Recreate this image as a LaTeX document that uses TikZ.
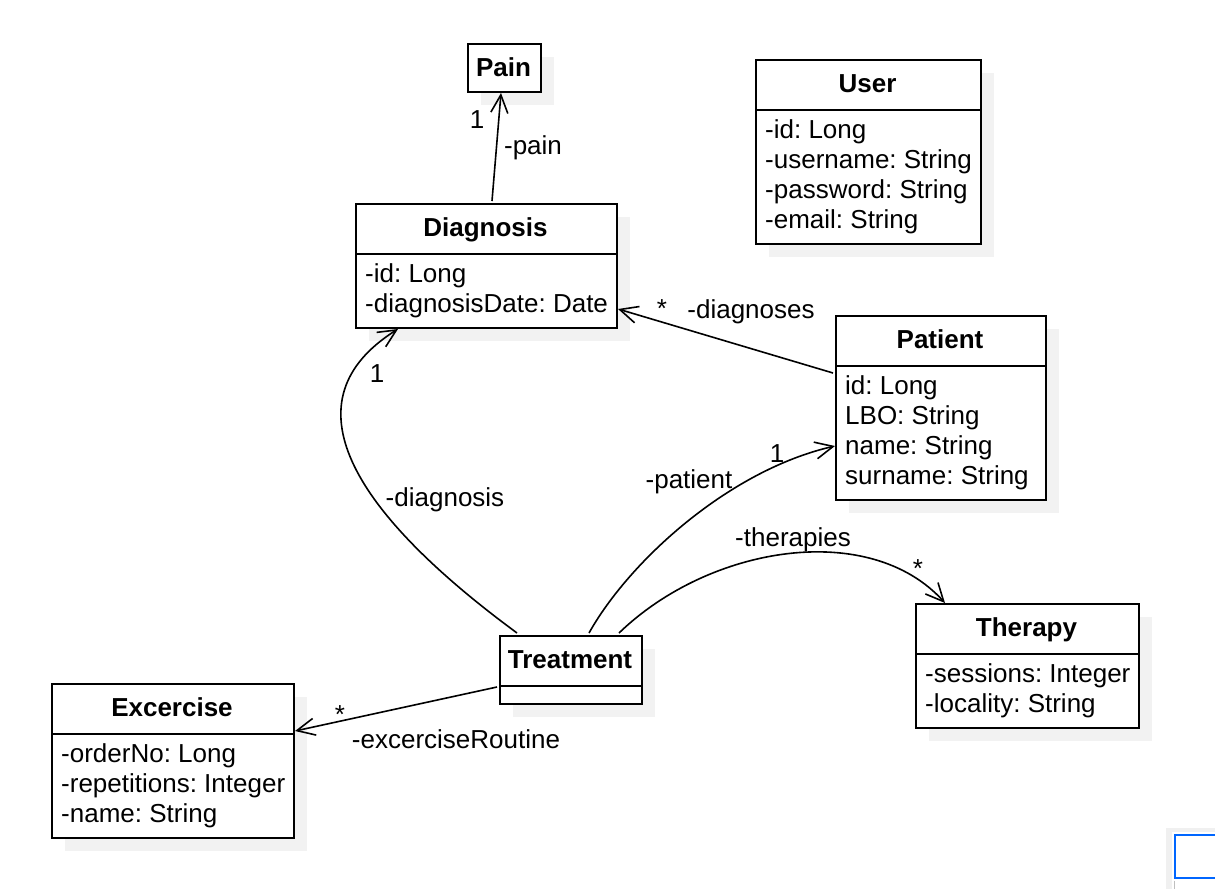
\documentclass[tikz,border=0pt]{standalone}
\usepackage{fontspec}
\setmainfont{Liberation Sans}
\frenchspacing
\usetikzlibrary{arrows.meta,calc}
\tikzset{
  box/.style={draw, line width=2pt, fill=white, inner sep=0pt, anchor=north west},
  shadowbox/.style={fill=black!5, draw=none},
  ttl/.style={font=\fontsize{26}{30}\selectfont\bfseries, anchor=base, inner sep=0pt},
  attr/.style={font=\fontsize{26}{30}\selectfont, anchor=base west, inner sep=0pt},
  lbl/.style={font=\fontsize{26}{30}\selectfont, anchor=base, inner sep=0pt},
  conn/.style={line width=1.6pt, -{Straight Barb[length=18pt,width=17pt,line width=1.6pt]}},
}
\begin{document}
\begin{tikzpicture}[x=1pt,y=-1pt]
\useasboundingbox (0,0) rectangle (1215,889);
% shadows
\fill[shadowbox] (481,57) rectangle (554,105);
\fill[shadowbox] (769,73) rectangle (994,257);
\fill[shadowbox] (369,217) rectangle (630,341);
\fill[shadowbox] (849,329) rectangle (1059,513);
\fill[shadowbox] (513,649) rectangle (655,717);
\fill[shadowbox] (65,697) rectangle (307,851);
\fill[shadowbox] (929,617) rectangle (1152,741);
% Pain
\node[box, minimum width=73pt, minimum height=48pt] (pain) at (467,43) {};
\node[ttl] (painT) at (503.5,76) {Pain};
% User
\node[box, minimum width=225pt, minimum height=50pt] (userH) at (755,59) {};
\node[box, minimum width=225pt, minimum height=134pt] (userB) at (755,109) {};
\node[ttl] (userT) at (867.5,92) {User};
\node[attr] (userA1) at (765,138) {-id: Long};
\node[attr] (userA2) at (765,168) {-username: String};
\node[attr] (userA3) at (765,198) {-password: String};
\node[attr] (userA4) at (765,228) {-email: String};
% Diagnosis
\node[box, minimum width=261pt, minimum height=50pt] (diagH) at (355,203) {};
\node[box, minimum width=261pt, minimum height=74pt] (diagB) at (355,253) {};
\node[ttl] (diagT) at (485.5,236) {Diagnosis};
\node[attr] (diagA1) at (365,282) {-id: Long};
\node[attr] (diagA2) at (365,312) {-diagnosisDate: Date};
% Patient
\node[box, minimum width=210pt, minimum height=50pt] (patH) at (835,315) {};
\node[box, minimum width=210pt, minimum height=134pt] (patB) at (835,365) {};
\node[ttl] (patT) at (940,348) {Patient};
\node[attr] (patA1) at (845,394) {id: Long};
\node[attr] (patA2) at (845,424) {LBO: String};
\node[attr] (patA3) at (845,454) {name: String};
\node[attr] (patA4) at (845,484) {surname: String};
% Treatment
\node[box, minimum width=142pt, minimum height=50pt] (treatH) at (499,635) {};
\node[box, minimum width=142pt, minimum height=18pt] (treatB) at (499,685) {};
\node[ttl] (treatT) at (570,668) {Treatment};
% Excercise
\node[box, minimum width=242pt, minimum height=50pt] (exH) at (51,683) {};
\node[box, minimum width=242pt, minimum height=104pt] (exB) at (51,733) {};
\node[ttl] (exT) at (172,716) {Excercise};
\node[attr] (exA1) at (61,762) {-orderNo: Long};
\node[attr] (exA2) at (61,792) {-repetitions: Integer};
\node[attr] (exA3) at (61,822) {-name: String};
% Therapy
\node[box, minimum width=223pt, minimum height=50pt] (therH) at (915,603) {};
\node[box, minimum width=223pt, minimum height=74pt] (therB) at (915,653) {};
\node[ttl] (therT) at (1026.5,636) {Therapy};
\node[attr] (therA1) at (925,682) {-sessions: Integer};
\node[attr] (therA2) at (925,712) {-locality: String};
% connectors
\draw[conn] ([xshift=5.5pt,yshift=2pt]diagH.north) -- ([xshift=-3.5pt]pain.south);
\draw[conn] ([xshift=-2pt,yshift=-8pt]patB.north west) -- ([yshift=20pt]diagB.south east);
\draw[conn] ([xshift=18pt,yshift=2pt]treatH.north west) .. controls (350,510) and (285,400) .. ([xshift=43pt]diagB.south west);
\draw[conn] ([xshift=90pt,yshift=2pt]treatH.north west) .. controls (630,560) and (730,470) .. ([yshift=55pt]patB.south west);
\draw[conn] ([xshift=120pt,yshift=2pt]treatH.north west) .. controls (710,545) and (870,520) .. ([xshift=30pt]therH.north west);
\draw[conn] ([xshift=-2pt]treatH.south west) -- ([yshift=2pt]exB.north east);
% labels
\node[lbl] (l1) at (477,128) {1};
\node[lbl] (l2) at (533,154) {-pain};
\node[lbl] (l3) at (662,317) {*};
\node[lbl] (l4) at (751,318) {-diagnoses};
\node[lbl] (l5) at (377,382) {1};
\node[lbl] (l6) at (445,506) {-diagnosis};
\node[lbl] (l7) at (777,462) {1};
\node[lbl] (l8) at (689,488) {-patient};
\node[lbl] (l9) at (793,546) {-therapies};
\node[lbl] (l10) at (918,577) {*};
\node[lbl] (l11) at (340,723) {*};
\node[lbl] (l12) at (456,748) {-excerciseRoutine};
% minimap
\fill[black!6] (1166,828) rectangle (1215,889);
\fill[white] (1172,832) rectangle (1215,889);
\node[draw=blue!60!cyan, line width=1.5pt, minimum width=46pt, minimum height=43pt, anchor=north west, inner sep=0pt] (mini) at (1174,834) {};
\draw[black!25, line width=1pt] ([yshift=-2pt]mini.south west) -- (1174,889);
\end{tikzpicture}
\end{document}
